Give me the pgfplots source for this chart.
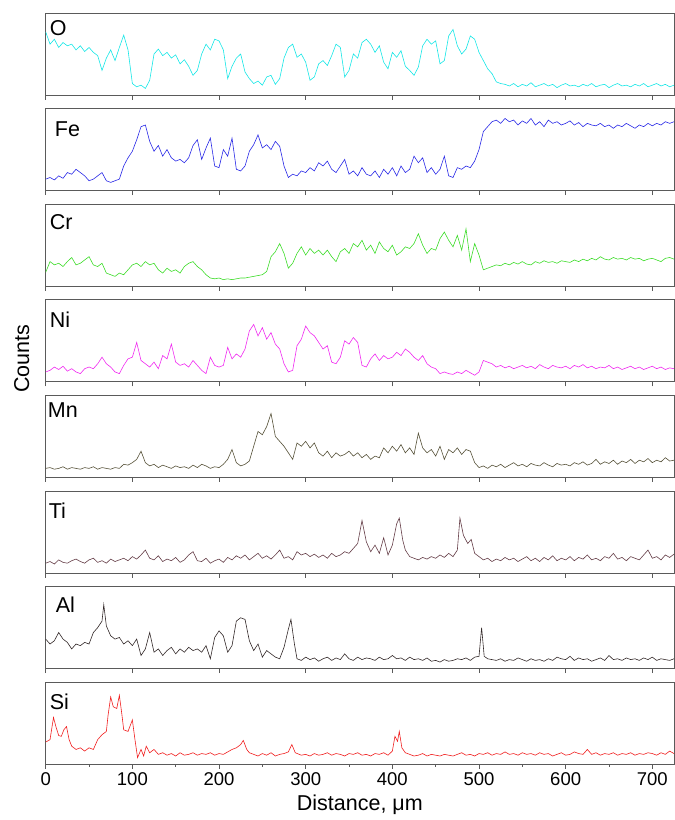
\documentclass[border=0pt]{standalone}
\usepackage{pgfplots}
\pgfplotsset{compat=1.18}
\usepgfplotslibrary{groupplots}
\usetikzlibrary{calc}
\usepackage{fontspec}
\setmainfont{Liberation Sans}

\definecolor{cO}{RGB}{20,230,230}
\definecolor{cFe}{RGB}{40,40,230}
\definecolor{cCr}{RGB}{60,220,40}
\definecolor{cNi}{RGB}{240,40,240}
\definecolor{cMn}{RGB}{85,80,55}
\definecolor{cTi}{RGB}{100,60,70}
\definecolor{cAl}{RGB}{50,40,40}
\definecolor{cSi}{RGB}{240,30,30}
\definecolor{frame}{RGB}{90,90,90}

\newcommand{\bigf}{\fontsize{18.5}{21}\selectfont}
\newcommand{\labf}{\fontsize{21.5}{24}\selectfont}
\newcommand{\axf}{\fontsize{21.5}{24}\selectfont}

\begin{document}
\begin{tikzpicture}
\begin{groupplot}[
  group style={group size=1 by 8, vertical sep=13.6pt, xticklabels at=edge bottom},
  scale only axis, width=628.3pt, height=82pt,
  xmin=0, xmax=725, ymin=0, ymax=100,
  ytick=\empty, xtick={0,100,...,700},
  xtick pos=left, tick align=outside,
  major tick length=4.5pt,
  axis line style={frame, line width=0.9pt},
  every tick/.style={frame, line width=0.9pt},
  tick label style={font=\bigf},
  /pgf/number format/assume math mode=true,
  every axis plot/.append style={line width=0.6pt},
  clip=true,
]
\nextgroupplot
\addplot[cO] coordinates {
(0,77)(5,62)(10,68)(15,58)(20,64)(25,60)(30,62)(35,55)(40,60)(45,53)(50,58)(55,52)(60,48)(65,30)(70,45)(75,55)(80,42)(85,58)(90,73)(95,55)
(100,14)(105,10)(110,12)(115,8)(120,18)(125,50)(130,56)(135,48)(140,52)(145,45)(150,49)(155,38)(160,43)(165,35)(170,24)(175,30)(180,50)(185,62)(190,55)(195,68)
(200,66)(205,55)(210,20)(215,35)(220,45)(225,50)(230,28)(235,20)(240,14)(245,17)(250,12)(255,22)(260,24)(265,13)(270,20)(275,45)(280,58)(285,62)(290,46)(295,50)
(300,40)(305,18)(310,22)(315,38)(320,42)(325,36)(330,48)(335,62)(340,58)(345,22)(350,30)(355,50)(360,45)(365,64)(370,68)(375,62)(380,52)(385,60)(390,40)(395,32)
(400,52)(405,46)(410,54)(415,35)(420,30)(425,24)(430,34)(435,60)(440,68)(445,62)(450,66)(455,38)(460,42)(465,72)(470,80)(475,60)(480,50)(485,56)(490,72)(495,68)
(500,52)(505,42)(510,32)(515,26)(520,16)(525,14)(530,13)(535,11)(540,14)(545,10)(550,13)(555,11)(560,15)(565,10)(570,12)(575,14)(580,11)(585,13)(590,9)(595,12)
(600,14)(605,11)(610,12)(615,10)(620,13)(625,11)(630,14)(635,10)(640,12)(645,13)(650,9)(655,12)(660,14)(665,11)(670,12)(675,10)(680,13)(685,11)(690,14)(695,10)
(700,12)(705,14)(710,11)(715,13)(720,10)(725,12)
};
\node[anchor=north west, inner sep=0, font=\labf] at ([xshift=4pt,yshift=-7pt]rel axis cs:0,1) {O};

\nextgroupplot
\addplot[cFe] coordinates {
(0,14)(5,16)(10,13)(15,18)(20,15)(25,22)(30,20)(35,26)(40,22)(45,18)(50,12)(55,14)(60,18)(65,22)(70,12)(75,10)(80,12)(85,14)(90,30)(95,40)
(100,48)(105,62)(110,78)(115,80)(120,60)(125,48)(130,55)(135,42)(140,50)(145,40)(150,36)(155,38)(160,34)(165,40)(170,55)(175,62)(180,38)(185,52)(190,64)(195,30)
(200,28)(205,50)(210,42)(215,64)(220,26)(225,24)(230,30)(235,48)(240,56)(245,68)(250,52)(255,56)(260,50)(265,60)(270,54)(275,30)(280,16)(285,20)(290,18)(295,24)
(300,22)(305,28)(310,24)(315,34)(320,30)(325,36)(330,26)(335,22)(340,30)(345,38)(350,20)(355,24)(360,18)(365,28)(370,20)(375,18)(380,24)(385,16)(390,26)(395,20)
(400,28)(405,18)(410,30)(415,22)(420,26)(425,42)(430,34)(435,40)(440,22)(445,28)(450,20)(455,26)(460,42)(465,18)(470,16)(475,28)(480,26)(485,30)(490,28)(495,36)
(500,50)(505,72)(510,78)(515,84)(520,86)(525,82)(530,88)(535,84)(540,86)(545,80)(550,85)(555,82)(560,88)(565,80)(570,84)(575,78)(580,86)(585,82)(590,84)(595,80)
(600,82)(605,85)(610,80)(615,83)(620,78)(625,82)(630,80)(635,79)(640,82)(645,78)(650,80)(655,76)(660,80)(665,78)(670,82)(675,79)(680,76)(685,80)(690,78)(695,82)
(700,79)(705,82)(710,80)(715,84)(720,82)(725,84)
};
\node[anchor=north west, inner sep=0, font=\labf] at ([xshift=9pt,yshift=-13pt]rel axis cs:0,1) {Fe};

\nextgroupplot
\addplot[cCr] coordinates {
(0,17)(5,30)(10,26)(15,28)(20,24)(25,30)(30,35)(35,26)(40,28)(45,32)(50,36)(55,26)(60,24)(65,28)(70,16)(75,14)(80,12)(85,16)(90,14)(95,20)
(100,26)(105,28)(110,24)(115,30)(120,26)(125,28)(130,20)(135,16)(140,22)(145,18)(150,20)(155,16)(160,24)(165,28)(170,30)(175,24)(180,20)(185,14)(190,10)(195,9)
(200,10)(205,8)(210,9)(215,8)(220,9)(225,10)(230,10)(235,11)(240,12)(245,13)(250,14)(255,18)(260,36)(265,42)(270,52)(275,40)(280,22)(285,28)(290,40)(295,48)
(300,38)(305,46)(310,40)(315,44)(320,38)(325,44)(330,36)(335,30)(340,42)(345,46)(350,40)(355,52)(360,48)(365,56)(370,44)(375,50)(380,40)(385,54)(390,46)(395,42)
(400,50)(405,38)(410,42)(415,48)(420,46)(425,52)(430,64)(435,50)(440,40)(445,46)(450,44)(455,58)(460,66)(465,56)(470,48)(475,62)(480,44)(485,70)(490,30)(495,52)
(500,38)(505,20)(510,22)(515,24)(520,26)(525,25)(530,28)(535,26)(540,29)(545,27)(550,30)(555,27)(560,26)(565,30)(570,28)(575,31)(580,29)(585,30)(590,28)(595,31)
(600,30)(605,29)(610,32)(615,30)(620,33)(625,31)(630,34)(635,32)(640,36)(645,33)(650,32)(655,35)(660,33)(665,34)(670,32)(675,35)(680,33)(685,34)(690,31)(695,33)
(700,34)(705,32)(710,30)(715,34)(720,35)(725,33)
};
\node[anchor=north west, inner sep=0, font=\labf] at ([xshift=4pt,yshift=-10pt]rel axis cs:0,1) {Cr};

\nextgroupplot
\addplot[cNi] coordinates {
(0,12)(5,14)(10,18)(15,15)(20,19)(25,13)(30,16)(35,12)(40,10)(45,16)(50,18)(55,16)(60,22)(65,30)(70,22)(75,18)(80,12)(85,10)(90,20)(95,28)
(100,30)(105,48)(110,26)(115,22)(120,18)(125,24)(130,16)(135,32)(140,28)(145,46)(150,24)(155,20)(160,22)(165,18)(170,26)(175,20)(180,14)(185,10)(190,30)(195,20)
(200,18)(205,20)(210,42)(215,28)(220,34)(225,30)(230,40)(235,62)(240,70)(245,56)(250,66)(255,52)(260,60)(265,46)(270,40)(275,22)(280,12)(285,14)(290,44)(295,52)
(300,68)(305,60)(310,56)(315,48)(320,40)(325,44)(330,24)(335,22)(340,30)(345,50)(350,46)(355,54)(360,48)(365,20)(370,18)(375,28)(380,34)(385,26)(390,32)(395,28)
(400,30)(405,36)(410,32)(415,40)(420,36)(425,30)(430,26)(435,32)(440,22)(445,18)(450,16)(455,10)(460,12)(465,10)(470,9)(475,12)(480,10)(485,14)(490,11)(495,8)
(500,12)(505,26)(510,24)(515,22)(520,18)(525,20)(530,17)(535,19)(540,16)(545,18)(550,20)(555,17)(560,19)(565,16)(570,21)(575,18)(580,16)(585,20)(590,18)(595,17)
(600,19)(605,16)(610,20)(615,18)(620,21)(625,17)(630,19)(635,16)(640,18)(645,17)(650,20)(655,16)(660,18)(665,15)(670,17)(675,19)(680,16)(685,18)(690,15)(695,17)
(700,19)(705,16)(710,18)(715,15)(720,17)(725,16)
};
\node[anchor=north west, inner sep=0, font=\labf] at ([xshift=4pt,yshift=-12pt]rel axis cs:0,1) {Ni};

\nextgroupplot
\addplot[cMn] coordinates {
(0,11)(5,12)(10,10)(15,11)(20,13)(25,10)(30,12)(35,11)(40,10)(45,12)(50,11)(55,13)(60,10)(65,12)(70,11)(75,10)(80,12)(85,11)(90,16)(95,15)
(100,18)(105,22)(110,32)(115,18)(120,14)(125,16)(130,12)(135,15)(140,13)(145,11)(150,14)(155,12)(160,13)(165,11)(170,15)(175,12)(180,16)(185,14)(190,11)(195,13)
(200,12)(205,16)(210,22)(215,34)(220,18)(225,14)(230,16)(235,20)(240,38)(245,56)(250,52)(255,62)(260,78)(265,50)(270,44)(275,38)(280,30)(285,22)(290,42)(295,38)
(300,44)(305,36)(310,42)(315,30)(320,26)(325,32)(330,24)(335,30)(340,26)(345,28)(350,32)(355,26)(360,30)(365,24)(370,28)(375,22)(380,26)(385,24)(390,36)(395,30)
(400,38)(405,32)(410,40)(415,30)(420,36)(425,28)(430,54)(435,36)(440,30)(445,34)(450,26)(455,38)(460,22)(465,34)(470,30)(475,36)(480,28)(485,34)(490,32)(495,18)
(500,12)(505,14)(510,11)(515,15)(520,13)(525,16)(530,12)(535,15)(540,18)(545,14)(550,16)(555,13)(560,17)(565,15)(570,14)(575,18)(580,15)(585,13)(590,17)(595,15)
(600,16)(605,14)(610,18)(615,16)(620,19)(625,15)(630,17)(635,22)(640,16)(645,19)(650,17)(655,21)(660,16)(665,20)(670,18)(675,22)(680,17)(685,21)(690,19)(695,23)
(700,18)(705,21)(710,19)(715,24)(720,20)(725,21)
};
\node[anchor=north west, inner sep=0, font=\labf] at ([xshift=2pt,yshift=-7pt]rel axis cs:0,1) {Mn};

\nextgroupplot
\addplot[cTi] coordinates {
(0,12)(5,14)(10,11)(15,16)(20,13)(25,12)(30,15)(35,17)(40,14)(45,12)(50,16)(55,18)(60,13)(65,15)(70,12)(75,17)(80,14)(85,16)(90,18)(95,15)
(100,20)(105,17)(110,22)(115,28)(120,18)(125,16)(130,21)(135,14)(140,17)(145,15)(150,19)(155,13)(160,16)(165,22)(170,26)(175,15)(180,14)(185,18)(190,12)(195,15)
(200,17)(205,13)(210,19)(215,16)(220,21)(225,18)(230,22)(235,16)(240,20)(245,24)(250,18)(255,21)(260,17)(265,22)(270,28)(275,18)(280,20)(285,16)(290,26)(295,22)
(300,24)(305,20)(310,23)(315,19)(320,22)(325,18)(330,24)(335,20)(340,22)(345,26)(350,24)(355,30)(360,36)(365,64)(370,38)(375,26)(380,34)(385,24)(390,43)(395,22)
(400,34)(405,60)(408,67)(412,40)(415,28)(420,20)(425,18)(430,16)(435,19)(440,17)(445,20)(450,18)(455,22)(460,19)(465,24)(470,20)(475,28)(478,67)(482,46)(487,36)(491,41)(495,24)
(500,20)(505,16)(510,18)(515,14)(520,17)(525,15)(530,19)(535,16)(540,18)(545,14)(550,17)(555,20)(560,15)(565,18)(570,14)(575,19)(580,16)(585,21)(590,15)(595,18)
(600,16)(605,20)(610,15)(615,19)(620,17)(625,22)(630,16)(635,18)(640,15)(645,20)(650,18)(655,24)(660,17)(665,19)(670,15)(675,20)(680,18)(685,16)(690,22)(695,28)
(700,18)(705,20)(710,16)(715,22)(720,19)(725,23)
};
\node[anchor=north west, inner sep=0, font=\labf] at ([xshift=3pt,yshift=-12pt]rel axis cs:0,1) {Ti};

\nextgroupplot
\addplot[cAl] coordinates {
(0,36)(5,30)(10,34)(15,44)(20,36)(25,32)(30,24)(35,30)(40,28)(45,32)(50,30)(55,44)(60,50)(65,58)(67,78)(70,52)(75,40)(80,36)(85,38)(90,30)(95,34)
(100,28)(105,36)(110,16)(115,24)(120,44)(125,20)(130,24)(135,16)(140,22)(145,26)(150,18)(155,24)(160,20)(165,26)(170,22)(175,24)(180,20)(185,28)(190,12)(195,38)
(200,46)(205,40)(210,20)(215,28)(220,58)(225,62)(230,60)(235,34)(240,22)(245,30)(250,14)(255,22)(260,18)(265,14)(270,12)(275,26)(280,48)(283,60)(287,30)(290,12)(295,10)
(300,14)(305,11)(310,13)(315,9)(320,12)(325,14)(330,10)(335,13)(340,11)(345,18)(350,12)(355,10)(360,14)(365,11)(370,13)(375,12)(380,10)(385,14)(390,11)(395,12)
(400,16)(405,12)(410,13)(415,10)(420,14)(425,11)(430,12)(435,10)(440,13)(445,9)(450,10)(455,8)(460,11)(465,9)(470,10)(475,12)(480,11)(485,13)(490,10)(495,14)
(500,15)(503,50)(506,15)(510,12)(515,11)(520,10)(525,12)(530,9)(535,11)(540,10)(545,13)(550,11)(555,9)(560,12)(565,10)(570,11)(575,9)(580,12)(585,10)(590,14)(595,12)
(600,11)(605,15)(610,10)(615,13)(620,11)(625,12)(630,9)(635,11)(640,13)(645,10)(650,16)(655,11)(660,12)(665,10)(670,13)(675,11)(680,12)(685,10)(690,13)(695,11)
(700,14)(705,10)(710,12)(715,11)(720,10)(725,12)
};
\node[anchor=north west, inner sep=0, font=\labf] at ([xshift=10pt,yshift=-10pt]rel axis cs:0,1) {Al};

\nextgroupplot[minor xtick={50,150,...,650}, minor tick length=2.5pt,
  xlabel={Distance, μm}, xlabel style={font=\axf, yshift=-3pt}]
\addplot[cSi] coordinates {
(0,27)(5,30)(9,57)(12,45)(15,35)(18,34)(21,42)(24,46)(27,30)(30,22)(35,18)(40,20)(45,16)(50,20)(55,18)(60,30)(65,36)(70,40)(72,60)(75,82)(78,70)(82,68)(85,84)(88,60)(90,42)(95,40)
(100,54)(103,30)(106,8)(110,18)(113,10)(116,22)(120,14)(125,18)(130,12)(135,14)(140,11)(145,13)(150,10)(155,14)(160,11)(165,12)(170,14)(175,11)(180,13)(185,12)(190,14)(195,11)
(200,13)(205,12)(210,15)(215,18)(220,20)(225,24)(228,29)(232,18)(235,14)(240,12)(245,10)(250,13)(255,11)(260,14)(265,10)(270,12)(275,13)(280,15)(284,24)(288,14)(295,11)
(300,12)(305,10)(310,13)(315,11)(320,12)(325,14)(330,11)(335,13)(340,12)(345,10)(350,13)(355,12)(360,14)(365,11)(370,12)(375,10)(380,13)(385,12)(390,14)(395,11)
(400,16)(403,34)(406,28)(408,40)(411,20)(415,14)(420,12)(425,10)(430,11)(435,13)(440,10)(445,12)(450,11)(455,10)(460,12)(465,11)(470,10)(475,12)(480,14)(485,11)(490,12)(495,10)
(500,13)(505,12)(510,14)(515,11)(520,13)(525,12)(530,15)(535,12)(540,13)(545,11)(550,14)(555,12)(560,13)(565,11)(570,14)(575,12)(580,13)(585,10)(590,12)(595,14)
(600,11)(605,12)(610,15)(615,13)(620,12)(625,18)(630,12)(635,14)(640,11)(645,13)(650,12)(655,14)(660,11)(665,13)(670,12)(675,14)(680,11)(685,13)(690,12)(695,14)
(700,13)(705,11)(710,14)(715,12)(720,16)(725,13)
};
\node[anchor=north west, inner sep=0, font=\labf] at ([xshift=4pt,yshift=-12pt]rel axis cs:0,1) {Si};
\end{groupplot}
\node[rotate=90, font=\axf] at ($($(group c1r1.north west)!0.5!(group c1r8.south west)$)+(-24pt,30pt)$) {Counts};
\pgfresetboundingbox
\path[use as bounding box] ($(group c1r1.north west)+(-45.7pt,13pt)$) rectangle ($(group c1r1.north west)+(629.3pt,-807pt)$);
\end{tikzpicture}
\end{document}
